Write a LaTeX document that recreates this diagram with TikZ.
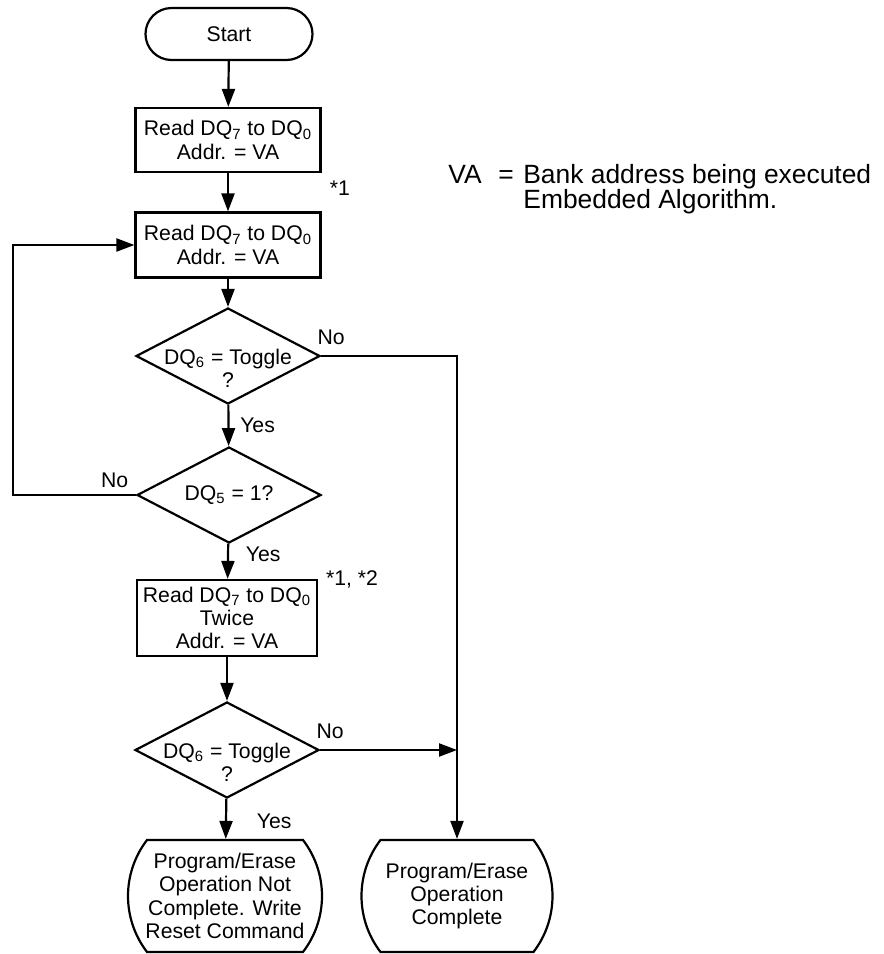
\documentclass[tikz,border=0pt]{standalone}
\usepackage{fontspec}
\setmainfont{Liberation Sans}
\usetikzlibrary{shapes.geometric, shapes.misc, arrows.meta, positioning}

\newcommand{\dq}[1]{DQ\textsubscript{#1}}

\tikzset{
  flow/.style={line width=1.1pt, -{Triangle[length=9pt, width=6.5pt]}},
  terminal/.style={draw, line width=1.1pt, rounded rectangle, inner sep=0pt, align=center},
  process/.style={draw, line width=1.1pt, rectangle, inner sep=0pt, align=center},
  decision/.style={draw, line width=1.1pt, diamond, inner sep=0pt, minimum width=92pt, minimum height=48pt},
}

\begin{document}
\begin{tikzpicture}[x=0.5pt, y=-0.5pt, font=\fontsize{10.6}{11.6}\selectfont]
      \useasboundingbox (0,0) rectangle (884,954);
      % main column
      \node[terminal, minimum width=83.5pt, minimum height=26pt] (start) at (229,34) {Start};
      \node[process, minimum width=92.5pt, minimum height=32pt] (read1) at (228,140) {Read \dq{7} to \dq{0}\\Addr. = VA};
      \node[process, minimum width=92.5pt, minimum height=32.5pt] (read2) at (228,245) {Read \dq{7} to \dq{0}\\Addr. = VA};
      \node[decision, label={[yshift=-6pt, align=center]center:\dq{6} = Toggle\\?}] (tog1) at (228,356) {};
      \node[decision, label={center:\dq{5} = 1?}] (tog2) at (229,495) {};
      \node[process, minimum width=90pt, minimum height=38pt] (read3) at (227,618) {Read \dq{7} to \dq{0}\\Twice\\Addr. = VA};
      \node[decision, label={[yshift=-6pt, align=center]center:\dq{6} = Toggle\\?}] (tog3) at (227,750) {};
      \node[terminal, rounded rectangle arc length=75, minimum width=97pt, minimum height=56pt] (notdone) at (225,896) {Program/Erase\\Operation Not\\Complete. Write\\Reset Command};
      \node[terminal, rounded rectangle arc length=75, minimum width=95.5pt, minimum height=56pt] (done) at (457,896) {Program/Erase\\Operation\\Complete};
      \coordinate (loopx) at (13,0);
      % notes
      \node (star1) at (340,188) {*1};
      \node (star12) at (352,579) {*1, *2};
      \node[anchor=base west, inner sep=0pt, font=\fontsize{13.2}{14}\selectfont] (legend) at (448,183) {\makebox[25pt][l]{VA}\makebox[12.5pt][l]{=}Bank address being executed};
      \node[anchor=base west, inner sep=0pt, font=\fontsize{13.2}{14}\selectfont] (legendcont) at (523,208) {Embedded Algorithm.};
      % connectors
      \draw[flow] (start) -- (read1);
      \draw[flow] (read1) -- (read2);
      \draw[flow] (read2) -- (tog1);
      \draw[flow] (tog1) -- node[right, xshift=2pt] {Yes} (tog2);
      \draw[flow] (tog2) -- node[pos=0.3, right, xshift=5pt] {Yes} (read3);
      \draw[flow] (read3) -- (tog3);
      \draw[flow] (tog3) -- node[pos=0.55, right, xshift=11.5pt] {Yes} (notdone);
      \draw[flow] (tog1.east) node[anchor=south, xshift=5pt, yshift=2pt] {No} -| (done.north);
      \draw[flow] (tog2.west) node[anchor=south east] {No} -- (tog2.west -| loopx) |- (read2.west);
      \draw[flow] (tog3.east) node[anchor=south, xshift=5pt, yshift=2pt] {No} -- (tog3.east -| done.north);
   \end{tikzpicture}
\end{document}
